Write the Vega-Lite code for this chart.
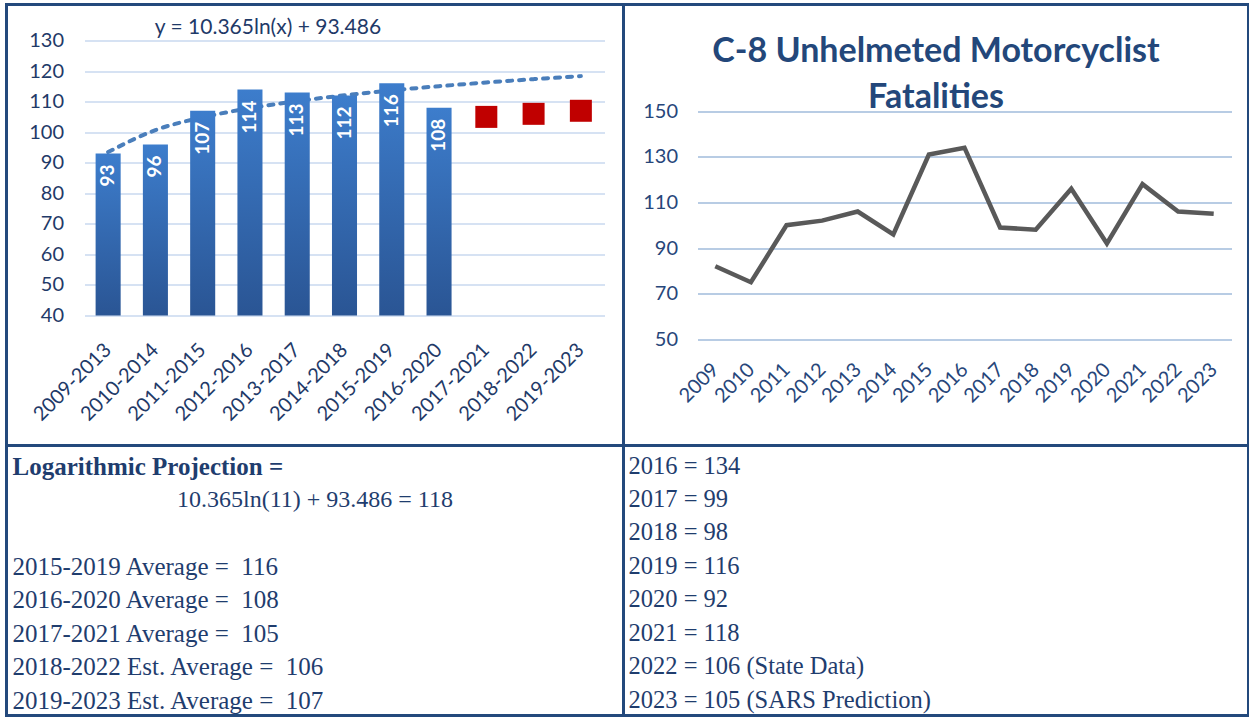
{
  "$schema": "https://vega.github.io/schema/vega-lite/v6.json",
  "background": "white",
  "padding": {"left": 4.5, "top": 2.5, "right": 0, "bottom": 0},
  "autosize": {"type": "pad"},
  "spacing": 0,
  "bounds": "flush",
  "columns": 2,
  "config": {
    "view": {"stroke": "#23497C", "strokeWidth": 3},
    "font": "Lato"
  },
  "datasets": {
    "avg": [
      {"period": "2009-2013", "value": 93},
      {"period": "2010-2014", "value": 96},
      {"period": "2011-2015", "value": 107},
      {"period": "2012-2016", "value": 114},
      {"period": "2013-2017", "value": 113},
      {"period": "2014-2018", "value": 112},
      {"period": "2015-2019", "value": 116},
      {"period": "2016-2020", "value": 108}
    ],
    "est": [
      {"period": "2017-2021", "value": 105},
      {"period": "2018-2022", "value": 106},
      {"period": "2019-2023", "value": 107}
    ],
    "trend": [
      {"period": "2009-2013", "value": 93.49},
      {"period": "2010-2014", "value": 100.67},
      {"period": "2011-2015", "value": 104.87},
      {"period": "2012-2016", "value": 107.86},
      {"period": "2013-2017", "value": 110.17},
      {"period": "2014-2018", "value": 112.06},
      {"period": "2015-2019", "value": 113.66},
      {"period": "2016-2020", "value": 115.04},
      {"period": "2017-2021", "value": 116.26},
      {"period": "2018-2022", "value": 117.35},
      {"period": "2019-2023", "value": 118.34}
    ],
    "equation": [
      {"period": "2012-2016", "value": 134.2, "eq": "y = 10.365ln(x) + 93.486"}
    ],
    "annual": [
      {"year": "2009", "fatalities": 82},
      {"year": "2010", "fatalities": 75},
      {"year": "2011", "fatalities": 100},
      {"year": "2012", "fatalities": 102},
      {"year": "2013", "fatalities": 106},
      {"year": "2014", "fatalities": 96},
      {"year": "2015", "fatalities": 131},
      {"year": "2016", "fatalities": 134},
      {"year": "2017", "fatalities": 99},
      {"year": "2018", "fatalities": 98},
      {"year": "2019", "fatalities": 116},
      {"year": "2020", "fatalities": 92},
      {"year": "2021", "fatalities": 118},
      {"year": "2022", "fatalities": 106},
      {"year": "2023", "fatalities": 105}
    ],
    "notesLeft": [
      {"line": 1, "text": "Logarithmic Projection ="},
      {"line": 2, "text": "10.365ln(11) + 93.486 = 118"},
      {"line": 4, "text": "2015-2019 Average =\u00a0 116"},
      {"line": 5, "text": "2016-2020 Average =\u00a0 108"},
      {"line": 6, "text": "2017-2021 Average =\u00a0 105"},
      {"line": 7, "text": "2018-2022 Est. Average =\u00a0 106"},
      {"line": 8, "text": "2019-2023 Est. Average =\u00a0 107"}
    ],
    "notesRight": [
      {"line": 1, "text": "2016 = 134"},
      {"line": 2, "text": "2017 = 99"},
      {"line": 3, "text": "2018 = 98"},
      {"line": 4, "text": "2019 = 116"},
      {"line": 5, "text": "2020 = 92"},
      {"line": 6, "text": "2021 = 118"},
      {"line": 7, "text": "2022 = 106 (State Data)"},
      {"line": 8, "text": "2023 = 105 (SARS Prediction)"}
    ]
  },
  "concat": [
    {
      "width": 617,
      "height": 441,
      "encoding": {
        "x": {
          "field": "period",
          "type": "nominal",
          "scale": {
            "domain": ["2009-2013", "2010-2014", "2011-2015", "2012-2016", "2013-2017", "2014-2018", "2015-2019", "2016-2020", "2017-2021", "2018-2022", "2019-2023"],
            "range": [78, 598],
            "paddingInner": 0.47,
            "paddingOuter": 0.235
          },
          "axis": {
            "title": null,
            "offset": -130,
            "labelAngle": -45,
            "labelAlign": "right",
            "labelBaseline": "middle",
            "labelPadding": 31,
            "labelFontSize": 20,
            "labelFont": "Lato",
            "labelColor": "#1F3A68",
            "labelOverlap": false,
            "ticks": false,
            "domain": false,
            "grid": false
          }
        },
        "y": {
          "field": "value",
          "type": "quantitative",
          "scale": {"domain": [40, 130], "range": [311, 36], "nice": false, "zero": false},
          "axis": {
            "title": null,
            "offset": -78,
            "values": [40, 50, 60, 70, 80, 90, 100, 110, 120, 130],
            "labelPadding": 21,
            "labelFontSize": 20,
            "labelFont": "Lato",
            "labelColor": "#1F3A68",
            "ticks": false,
            "domain": false,
            "gridColor": "#D6E2F3",
            "gridWidth": 2
          }
        }
      },
      "layer": [
        {
          "data": {"name": "trend"},
          "mark": {"type": "line", "color": "#4A7EBB", "strokeWidth": 4, "strokeDash": [5, 7], "strokeCap": "round", "interpolate": "monotone"}
        },
        {
          "data": {"name": "avg"},
          "mark": {
            "type": "bar",
            "color": {
              "gradient": "linear", "x1": 0, "y1": 0, "x2": 0, "y2": 1,
              "stops": [{"offset": 0, "color": "#3D7DCC"}, {"offset": 1, "color": "#2A5594"}]
            }
          },
          "encoding": {"y2": {"datum": 40}}
        },
        {
          "data": {"name": "avg"},
          "mark": {"type": "text", "angle": -90, "align": "right", "baseline": "middle", "dx": -11, "color": "white", "fontWeight": "bold", "fontSize": 19, "font": "Lato"},
          "encoding": {"text": {"field": "value", "type": "quantitative"}}
        },
        {
          "data": {"name": "est"},
          "mark": {"type": "point", "shape": "square", "filled": true, "opacity": 1, "size": 484, "color": "#C00000"}
        },
        {
          "data": {"name": "equation"},
          "mark": {"type": "text", "fontSize": 21, "font": "Lato", "color": "#1F3A68", "align": "center", "baseline": "middle", "dx": 18},
          "encoding": {
            "text": {"field": "eq", "type": "nominal"}
          }
        }
      ]
    },
    {
      "width": 625,
      "height": 441,
      "title": {
        "text": ["C-8 Unhelmeted Motorcyclist", "Fatalities"],
        "fontSize": 34,
        "font": "Lato",
        "fontWeight": "bold",
        "color": "#23477A",
        "anchor": "middle",
        "frame": "group",
        "lineHeight": 46,
        "offset": -110
      },
      "data": {"name": "annual"},
      "mark": {"type": "line", "color": "#595959", "strokeWidth": 4.5},
      "encoding": {
        "x": {
          "field": "year",
          "type": "ordinal",
          "scale": {"type": "point", "padding": 0.5, "range": [74, 608]},
          "axis": {
            "title": null,
            "offset": -106.3,
            "labelAngle": -45,
            "labelAlign": "right",
            "labelBaseline": "middle",
            "labelPadding": 27,
            "labelFontSize": 20,
            "labelFont": "Lato",
            "labelColor": "#27467A",
            "labelOverlap": false,
            "ticks": false,
            "domain": false,
            "grid": false
          }
        },
        "y": {
          "field": "fatalities",
          "type": "quantitative",
          "scale": {"domain": [50, 150], "range": [334.7, 106.7], "nice": false, "zero": false},
          "axis": {
            "title": null,
            "offset": -74,
            "values": [50, 70, 90, 110, 130, 150],
            "labelPadding": 20,
            "labelFontSize": 20,
            "labelFont": "Lato",
            "labelColor": "#27467A",
            "ticks": false,
            "domain": false,
            "gridColor": "#B8CCE4",
            "gridWidth": 2
          }
        }
      }
    },
    {
      "width": 617,
      "height": 270,
      "data": {"name": "notesLeft"},
      "encoding": {
        "y": {"field": "line", "type": "quantitative", "scale": {"domain": [1, 8], "range": [21, 255]}, "axis": null},
        "text": {"field": "text", "type": "nominal"}
      },
      "layer": [
        {
          "transform": [{"filter": "datum.line == 1"}],
          "mark": {"type": "text", "align": "left", "baseline": "middle", "font": "Liberation Serif", "fontSize": 25, "fontWeight": "bold", "color": "#1F3D6E"},
          "encoding": {"x": {"value": 6}}
        },
        {
          "transform": [{"filter": "datum.line == 2"}],
          "mark": {"type": "text", "align": "center", "baseline": "middle", "font": "Liberation Serif", "fontSize": 24, "color": "#1F3D6E"},
          "encoding": {"x": {"value": 308.5}}
        },
        {
          "transform": [{"filter": "datum.line > 2"}],
          "mark": {"type": "text", "align": "left", "baseline": "middle", "font": "Liberation Serif", "fontSize": 25, "color": "#1F3D6E"},
          "encoding": {"x": {"value": 6}}
        }
      ]
    },
    {
      "width": 625,
      "height": 270,
      "data": {"name": "notesRight"},
      "mark": {"type": "text", "align": "left", "baseline": "middle", "font": "Liberation Serif", "fontSize": 24.5, "color": "#1F3D6E"},
      "encoding": {
        "y": {"field": "line", "type": "quantitative", "scale": {"domain": [1, 8], "range": [21, 255]}, "axis": null},
        "x": {"value": 5},
        "text": {"field": "text", "type": "nominal"}
      }
    }
  ]
}
